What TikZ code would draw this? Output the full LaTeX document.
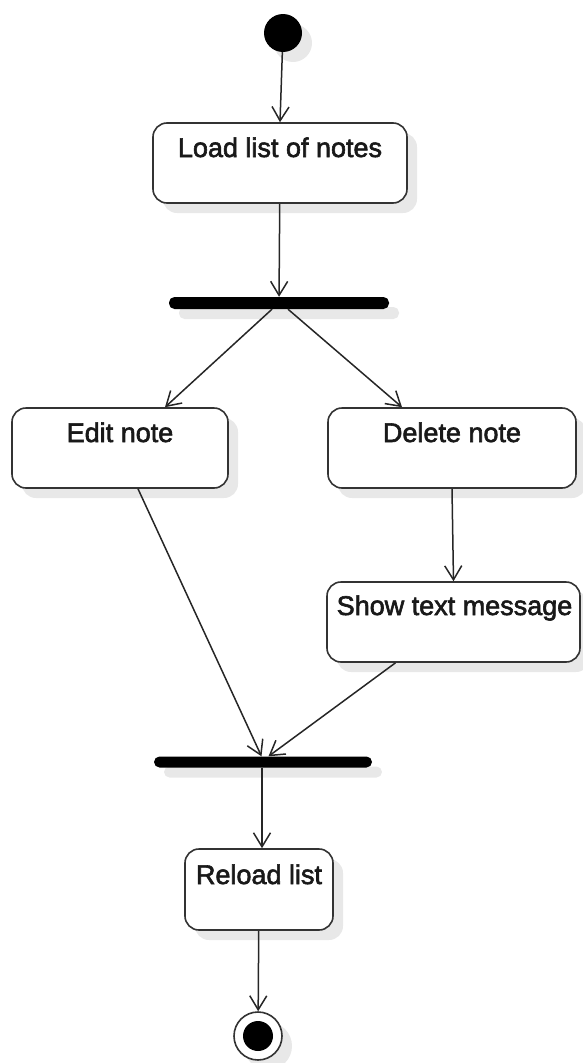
\documentclass[tikz,border=0pt]{standalone}
\usepackage{fontspec}
\setmainfont{Liberation Sans}
\newfontfamily\lblfont[FakeBold=2.2]{Liberation Sans}
\usetikzlibrary{arrows.meta,shadows}

\tikzset{
  soft/.style={drop shadow={shadow xshift=10pt, shadow yshift=-10pt, fill=black!9, opacity=1}},
  act/.style={draw=black!80, line width=1.6pt, rounded corners=14pt, fill=white, inner sep=0pt, soft},
  bar/.style={fill=black, rounded corners=5.5pt, inner sep=0pt, soft},
  lbl/.style={font=\lblfont\fontsize{27}{32}\selectfont, anchor=base, text=black!90, inner sep=0pt},
  flow/.style={draw=black!85, line width=1.5pt, -{Straight Barb[length=14pt,width=17pt,line width=1.5pt]}},
}

\begin{document}
\begin{tikzpicture}[x=1pt,y=-1pt]
\useasboundingbox (0,0) rectangle (582,1063);

% initial node
\node[circle, fill=black, minimum size=38pt, inner sep=0pt, soft] (start) at (283,33) {};

% activities
\node[act, minimum width=254pt, minimum height=80pt] (load) at (280,163) {};
\node[lbl] (loadt) at (280,157) {Load list of notes};

\node[bar, minimum width=220pt, minimum height=12pt] (fork) at (279,303) {};

\node[act, minimum width=216pt, minimum height=80pt] (edit) at (120,448) {};
\node[lbl] (editt) at (120,442) {Edit note};

\node[act, minimum width=248pt, minimum height=80pt] (delete) at (452,448) {};
\node[lbl] (deletet) at (452,442) {Delete note};

\node[act, minimum width=253pt, minimum height=80pt] (show) at (453.5,622) {};
\node[lbl] (showt) at (454.5,615) {Show text message};

\node[bar, minimum width=218pt, minimum height=11pt] (join) at (263,762) {};

\node[act, minimum width=148pt, minimum height=81pt] (reload) at (259,889.5) {};
\node[lbl] (reloadt) at (259,884) {Reload list};

% final node
\node[circle, draw=black!80, line width=1.6pt, fill=white, minimum size=48pt, inner sep=0pt, soft] (end) at (258,1036) {};
\node[circle, fill=black, minimum size=30pt, inner sep=0pt] (endin) at (end) {};

% transitions
\draw[flow] (start) -- (load.north);
\draw[flow] (load) -- (fork);
\draw[flow] ([xshift=-7pt]fork.south) -- ([xshift=45pt]edit.north);
\draw[flow] ([xshift=9pt]fork.south) -- ([xshift=-50pt]delete.north);
\draw[flow] ([xshift=18pt]edit.south) -- ([xshift=-1.5pt]join.north);
\draw[flow] (delete.south) -- (show.north);
\draw[flow] ([xshift=-58pt]show.south) -- ([xshift=5.5pt]join.north);
\draw[flow] ([xshift=-1pt]join.south) -- ([xshift=3pt]reload.north);
\draw[flow] (reload) -- (end);
\end{tikzpicture}
\end{document}
